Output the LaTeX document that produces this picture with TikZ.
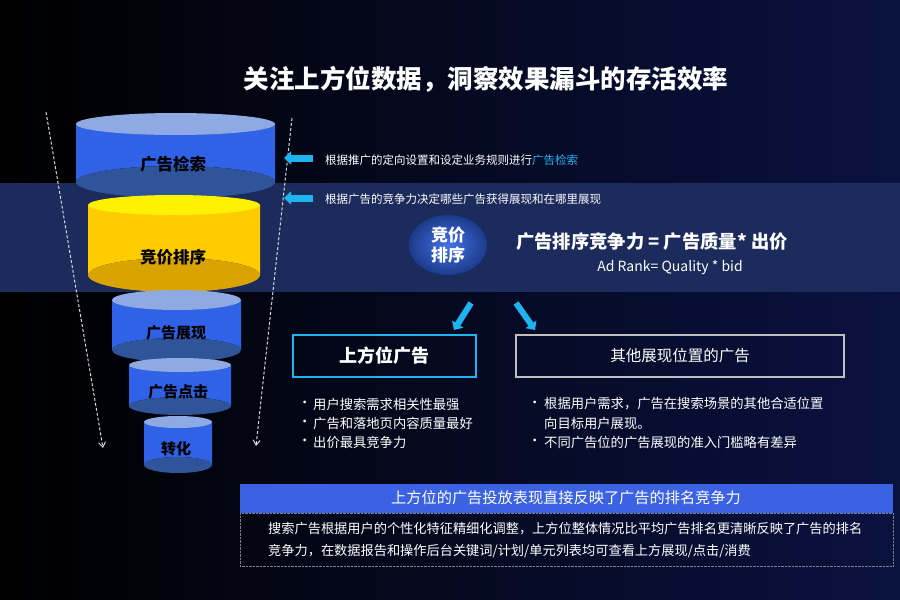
\documentclass[tikz,border=0pt]{standalone}
\usepackage{fontspec}
\setmainfont{Noto Sans CJK SC}
\usetikzlibrary{arrows.meta,shapes.geometric}
\definecolor{bgA}{HTML}{000000}
\definecolor{bgB}{HTML}{0A1240}
\definecolor{band}{HTML}{1B2B5C}
\definecolor{cside}{HTML}{2F62E6}
\definecolor{ctop}{HTML}{8FAAE3}
\definecolor{cbot}{HTML}{30549A}
\definecolor{ytop}{HTML}{FFF200}
\definecolor{yside}{HTML}{FFCC00}
\definecolor{ybot}{HTML}{D9A400}
\definecolor{cyanx}{HTML}{1EB4F0}
\definecolor{bann}{HTML}{3A62E2}
\tikzset{
  lab/.style={font=\bfseries\fontsize{16.5}{18}\selectfont,text=black},
  txt/.style={font=\fontsize{11.5}{14}\selectfont,text=white,anchor=west,inner sep=0},
  btxt/.style={font=\fontsize{13.3}{15}\selectfont,text=white,anchor=west,inner sep=0},
  ptxt/.style={font=\fontsize{13.2}{15}\selectfont,text=white,anchor=west,inner sep=0},
  dasharr/.style={draw=white!85!black,densely dashed,line width=1pt,-{Straight Barb[length=5pt,width=7pt]}},
  larr/.style={line width=7pt,-{Triangle[length=7pt,width=13pt]}},
}
\begin{document}
\begin{tikzpicture}[x=1pt,y=-1pt]
\useasboundingbox (0,0) rectangle (900,600);
\shade[left color=bgA,right color=bgB] (0,0) rectangle (900,600);
\fill[band] (0,183) rectangle (900,292);
\foreach \xa/\xb/\yt/\rt/\yb/\rb/\s/\t/\bt in {
  76/275/124/11/182/16/cside/ctop/cbot,
  88/260/205/10/275/17/yside/ytop/ybot,
  112/241/300/10/350/12/cside/ctop/cbot,
  129/231/365/7/406/9/cside/ctop/cbot,
  144/212/422/6/465/8/cside/ctop/cbot}{
  \fill[\s] (\xa,\yt) -- (\xa,\yb) arc[start angle=180,end angle=0,x radius={(\xb-\xa)/2},y radius=-\rb] -- (\xb,\yt) -- cycle;
  \fill[\bt] ({(\xa+\xb)/2},\yb) ellipse[x radius={(\xb-\xa)/2},y radius=\rb];
  \fill[\t] ({(\xa+\xb)/2},\yt) ellipse[x radius={(\xb-\xa)/2},y radius=\rt];
}
\node[lab] (c1) at (173,164) {广告检索};
\node[lab] (c2) at (173,257) {竞价排序};
\node[lab,font=\bfseries\fontsize{15}{17}\selectfont] (c3) at (176,333) {广告展现};
\node[lab,font=\bfseries\fontsize{15}{17}\selectfont] (c4) at (178,392) {广告点击};
\node[lab,font=\bfseries\fontsize{15}{17}\selectfont] (c5) at (176,449) {转化};
% dashed arrows
\coordinate (la) at (46,112); \coordinate (lb) at (103,448);
\coordinate (ra) at (292,118); \coordinate (rb) at (256,446);
\draw[dasharr] (la) -- (lb);
\draw[dasharr] (ra) -- (rb);
% left pointing arrows
\coordinate (a1s) at (313,158); \coordinate (a1e) at (284,158);
\coordinate (a2s) at (313,198); \coordinate (a2e) at (284,198);
\draw[larr,cyanx] (a1s) -- (a1e);
\draw[larr,cyanx] (a2s) -- (a2e);
\node[txt] (t1) at (325,160) {根据推广的定向设置和设定业务规则进行\textcolor{cyanx}{广告检索}};
\node[txt] (t2) at (325,199) {根据广告的竞争力决定哪些广告获得展现和在哪里展现};
% title
\node[font=\bfseries\fontsize{25.5}{29}\selectfont,text=white] (title) at (486,79) {关注上方位数据，洞察效果漏斗的存活效率};
% ellipse
\shade[inner color=cside!90!white,outer color=cside!60!black] (448,245) ellipse[x radius=39,y radius=30];
\node[font=\bfseries\fontsize{17}{20}\selectfont,text=white,align=center] (bid) at (448,245) {竞价\\排序};
\node[font=\bfseries\fontsize{18.3}{21}\selectfont,text=white] (f1) at (652,242) {广告排序竞争力 = 广告质量* 出价};
\node[font=\fontsize{14}{16}\selectfont,text=white] (f2) at (670,268) {Ad Rank= Quality * bid};
% boxes
\node[draw=cyanx,line width=2pt,minimum width=183pt,minimum height=42pt,text=white,font=\bfseries\fontsize{18}{21}\selectfont] (b1) at (384.5,355.5) {上方位广告};
\node[draw=white!75!black,line width=2pt,minimum width=328pt,minimum height=42pt,text=white,font=\fontsize{15.5}{18}\selectfont] (b2) at (680,355.5) {其他展现位置的广告};
\coordinate (d1s) at (471,303); \coordinate (d1e) at (454,330);
\coordinate (d2s) at (516,303); \coordinate (d2e) at (535,330);
\draw[larr,cyanx,line width=6pt] (d1s) -- (d1e);
\draw[larr,cyanx,line width=6pt] (d2s) -- (d2e);
% bullets
\foreach \y/\s in {404/用户搜索需求相关性最强,423/广告和落地页内容质量最好,442/出价最具竞争力}{
  \node[btxt] at (298,\y) {•}; \node[btxt] at (313,\y) {\s};}
\node[btxt] at (528,404) {•}; \node[btxt] at (544,404) {根据用户需求，广告在搜索场景的其他合适位置};
\node[btxt] at (544,423) {向目标用户展现。};
\node[btxt] at (528,442) {•}; \node[btxt] at (544,442) {不同广告位的广告展现的准入门槛略有差异};
% banner
\fill[bann] (240,484) rectangle (893,513);
\node[text=white,font=\fontsize{15.2}{18}\selectfont] (bt) at (566,498) {上方位的广告投放表现直接反映了广告的排名竞争力};
\draw[white!50!black,densely dotted] (240,513) rectangle (893,566);
\node[ptxt] (p1) at (268,529) {搜索广告根据用户的个性化特征精细化调整，上方位整体情况比平均广告排名更清晰反映了广告的排名};
\node[ptxt] (p2) at (268,551) {竞争力，在数据报告和操作后台关键词/计划/单元列表均可查看上方展现/点击/消费};
\end{tikzpicture}
\end{document}
